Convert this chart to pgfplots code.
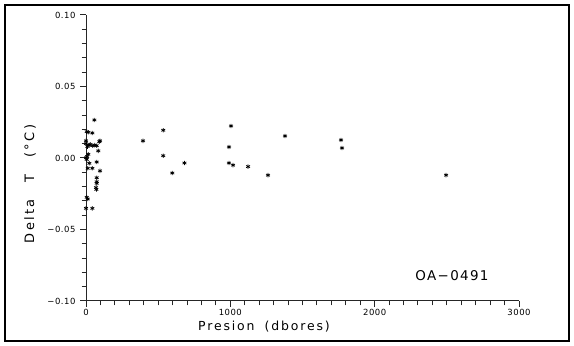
\documentclass[border=0pt]{standalone}
\usepackage{fontspec}
\setmainfont{DejaVu Sans}
\usepackage{pgfplots}
\pgfplotsset{compat=1.18}

% Temperature difference against pressure for profile OA-0491
\pgfplotstableread{
p dT
58 0.0266
5 0.0184
44 0.0175
16 0.0180
97 0.0120
92 0.0114
0 0.0120
0 0.0100
23 0.0090
46 0.0086
74 0.0086
10 0.0080
30 0.0095
60 0.0090
85 0.0050
16 0.0026
0 0.0002
5 -0.0010
8 0.0010
74 -0.0028
23 -0.0037
12 -0.0072
44 -0.0072
97 -0.0090
74 -0.0138
74 -0.0166
74 -0.0177
69 -0.0207
72 -0.0220
5 -0.0275
12 -0.0287
0 -0.0352
44 -0.0352
395 0.0120
535 0.0194
535 0.0016
598 -0.0105
682 -0.0035
1005 0.0224
991 0.0077
990 -0.0035
1019 -0.0050
1123 -0.0060
1261 -0.0120
1379 0.0154
1767 0.0126
1774 0.0070
2495 -0.0120
}\datatable

\begin{document}
\begin{tikzpicture}
\path (0bp,0bp) rectangle (574bp,346bp);
\draw[line width=1.8bp] (5bp,5bp) rectangle (569bp,341bp);
\begin{axis}[
  at={(86bp,45bp)}, anchor=south west,
  scale only axis, width=433bp, height=286bp,
  axis line style={draw=none},
  clip mode=individual,
  xtick pos=bottom, ytick pos=left,
  xmin=0, xmax=3000, ymin=-0.1, ymax=0.1,
  xtick={0,1000,2000,3000},
  xticklabels={0,1000,2000,3000},
  minor xtick={100,200,...,2900},
  ytick={-0.1,-0.05,0,0.05,0.1},
  yticklabels={−0.10,−0.05,0.00,0.05,0.10},
  minor ytick={-0.09,-0.08,...,0.095},
  tick align=outside,
  major tick length=6bp, minor tick length=4.5bp,
  every tick/.append style={black!85, line width=1bp},
  every minor tick/.append style={black!85, line width=1bp},
  ticklabel style={font=\fontsize{8.5}{10}\selectfont\addfontfeature{LetterSpace=6}},
  yticklabel style={xshift=-1bp},
  xticklabel style={yshift=1.5bp},
]
% left and bottom axis lines only
\draw[black!85, line width=1bp] (rel axis cs:0,1) -- (rel axis cs:0,0) -- (rel axis cs:1,0);
\addplot[only marks, mark=asterisk, mark size=2.2bp, mark options={line width=0.75bp, black}]
  table[x=p, y=dT] {\datatable};
\end{axis}
\node[font=\fontsize{12.5}{14}\selectfont\addfontfeature{LetterSpace=15}]
  at (264bp,19bp) {Presion\hspace{10bp}(dbores)};
\node[font=\fontsize{13}{15}\selectfont\addfontfeature{LetterSpace=18}, rotate=90]
  at (30bp,162bp) {Delta\hspace{17bp}T\hspace{17bp}(°C)};
\node[font=\fontsize{13.5}{15}\selectfont\addfontfeature{LetterSpace=10}]
  at (452bp,70bp) {OA−0491};
\end{tikzpicture}
\end{document}
